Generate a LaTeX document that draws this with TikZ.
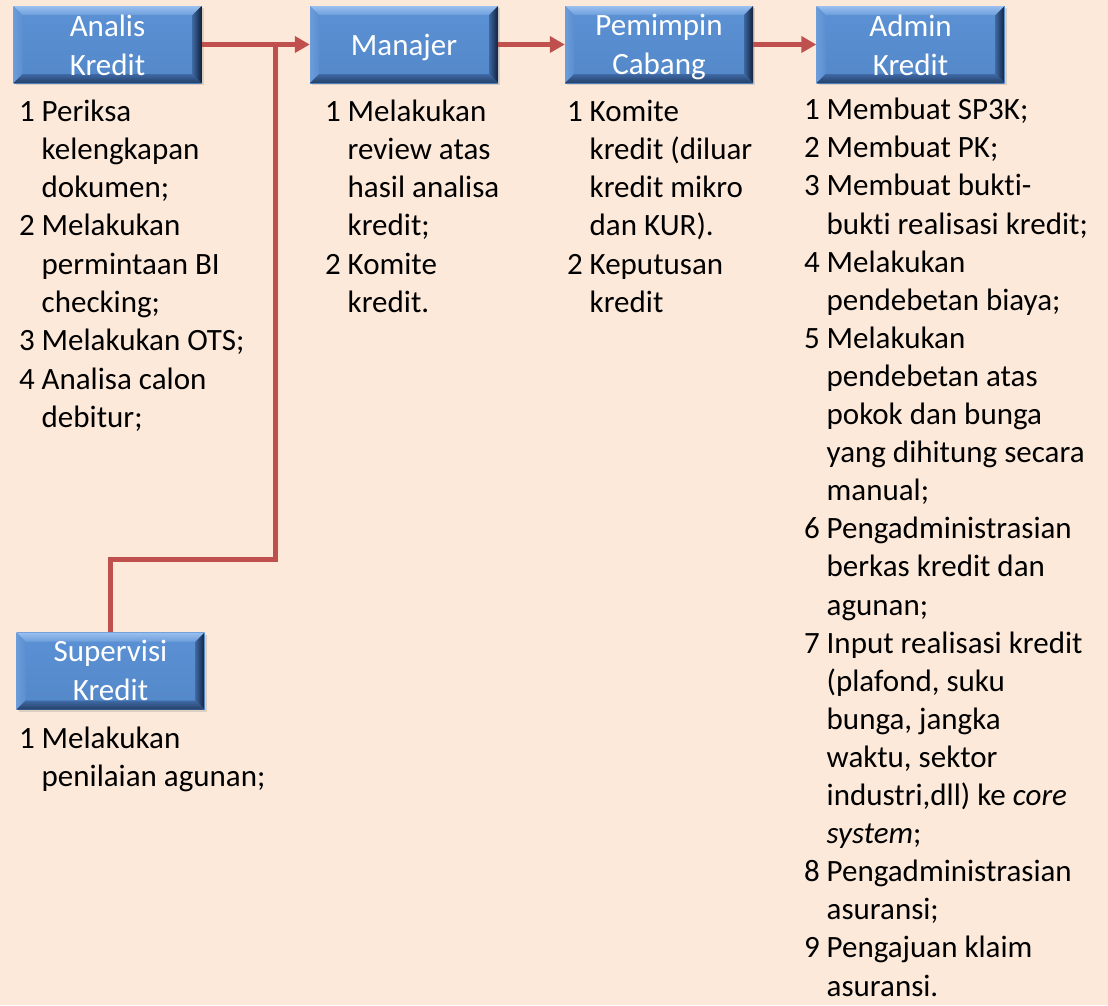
\documentclass[tikz,border=0pt]{standalone}
\usepackage{fontspec}
\setmainfont{Carlito}[Ligatures=NoCommon]
\usetikzlibrary{arrows.meta,calc,shadows}
\definecolor{bg}{HTML}{FDE9D9}
\definecolor{arrowred}{HTML}{C0504D}
\definecolor{face}{HTML}{5387C8}
\definecolor{facetop}{HTML}{5B92D5}
\definecolor{bevtopA}{HTML}{9AC0EE}
\definecolor{bevtopB}{HTML}{6D9EDC}
\definecolor{bevleftA}{HTML}{6C9CDA}
\definecolor{bevleftB}{HTML}{5A8FD0}
\definecolor{bevrightA}{HTML}{3C67A2}
\definecolor{bevrightB}{HTML}{13213A}
\definecolor{bevbotA}{HTML}{3F6AA6}
\definecolor{bevbotB}{HTML}{243F66}
\newcommand{\num}[1]{\makebox[22.5pt][l]{#1}}
\newcommand{\ind}{\hspace*{22.5pt}}
\begin{document}
\begin{tikzpicture}[x=1pt,y=-1pt,
  bevelbox/.style={minimum width=188pt,minimum height=77pt,inner sep=0pt,
    drop shadow={shadow xshift=2pt,shadow yshift=-2pt,opacity=0.25},
    fill=face,
    path picture={
      \coordinate (pNW) at (path picture bounding box.north west);
      \coordinate (pNE) at (path picture bounding box.north east);
      \coordinate (pSE) at (path picture bounding box.south east);
      \coordinate (pSW) at (path picture bounding box.south west);
      \shade[top color=facetop,bottom color=face] (pNW) rectangle (pSE);
      \shade[top color=bevtopA,bottom color=bevtopB] (pNW) -- (pNE) -- ($(pNE)+(-9pt,-9pt)$) -- ($(pNW)+(9pt,-9pt)$) -- cycle;
      \shade[left color=bevleftA,right color=bevleftB] (pNW) -- ($(pNW)+(9pt,-9pt)$) -- ($(pSW)+(9pt,9pt)$) -- (pSW) -- cycle;
      \shade[left color=bevrightA,right color=bevrightB] (pNE) -- ($(pNE)+(-9pt,-9pt)$) -- ($(pSE)+(-9pt,9pt)$) -- (pSE) -- cycle;
      \shade[top color=bevbotA,bottom color=bevbotB] (pSW) -- ($(pSW)+(9pt,9pt)$) -- ($(pSE)+(-9pt,9pt)$) -- (pSE) -- cycle;
    }},
  boxtext/.style={text=white,inner sep=0pt,align=center,font=\fontsize{31}{39}\selectfont},
  listtext/.style={text=black,inner sep=0pt,align=left,font=\fontsize{31}{38.3}\selectfont},
  flow/.style={draw=arrowred,line width=5pt,line join=miter},
  flowarrow/.style={flow,-{Triangle[length=15pt,width=16pt]}}
]
\fill[bg] (0,0) rectangle (1108,1005);
\useasboundingbox (0,0) rectangle (1108,1005);

% boxes
\node[bevelbox] (ana) at (107.5,44.5) {};
\node[bevelbox] (man) at (404,44.5) {};
\node[bevelbox] (pem) at (659,44.5) {};
\node[bevelbox] (adm) at (910.5,44.5) {};
\node[bevelbox] (sup) at (110.5,671) {};

% box labels (anchor base = baseline of last line)
\node[boxtext,anchor=base] (anat) at (107.5,75) {Analis\\Kredit};
\node[boxtext,anchor=base] (mant) at (404,55) {Manajer};
\node[boxtext,anchor=base] (pemt) at (659,74) {Pemimpin\\Cabang};
\node[boxtext,anchor=base] (admt) at (910.5,75) {Admin\\Kredit};
\node[boxtext,anchor=base] (supt) at (110.5,700) {Supervisi\\Kredit};

% connectors
\coordinate (j1) at (275,559);
\draw[flow] (sup.north) |- (j1) -- (j1 |- ana.east);
\draw[flowarrow] (ana.east) -- (man.west);
\draw[flowarrow] (man.east) -- (pem.west);
\draw[flowarrow] (pem.east) -- (adm.west);

% lists (anchor base west = baseline of last line)
\node[listtext,anchor=base west] (anal) at (19,427.4) {\num{1}Periksa\\
\ind kelengkapan\\
\ind dokumen;\\
\num{2}Melakukan\\
\ind permintaan BI\\
\ind checking;\\
\num{3}Melakukan OTS;\\
\num{4}Analisa calon\\
\ind debitur;};

\node[listtext,anchor=base west] (manl) at (325,312.5) {\num{1}Melakukan\\
\ind review atas\\
\ind hasil analisa\\
\ind kredit;\\
\num{2}Komite\\
\ind kredit.};

\node[listtext,anchor=base west] (peml) at (567,312.5) {\num{1}Komite\\
\ind kredit (diluar\\
\ind kredit mikro\\
\ind dan KUR).\\
\num{2}Keputusan\\
\ind kredit};

\node[listtext,anchor=base west,font=\fontsize{31}{38.1}\selectfont] (adml) at (804,996) {\num{1}Membuat SP3K;\\
\num{2}Membuat PK;\\
\num{3}Membuat bukti-\\
\ind bukti realisasi kredit;\\
\num{4}Melakukan\\
\ind pendebetan biaya;\\
\num{5}Melakukan\\
\ind pendebetan atas\\
\ind pokok dan bunga\\
\ind yang dihitung secara\\
\ind manual;\\
\num{6}Pengadministrasian\\
\ind berkas kredit dan\\
\ind agunan;\\
\num{7}Input realisasi kredit\\
\ind (plafond, suku\\
\ind bunga, jangka\\
\ind waktu, sektor\\
\ind industri,dll) ke \textit{core}\\
\ind \textit{system};\\
\num{8}Pengadministrasian\\
\ind asuransi;\\
\num{9}Pengajuan klaim\\
\ind asuransi.};

\node[listtext,anchor=base west] (supl) at (19,786.3) {\num{1}Melakukan\\
\ind penilaian agunan;};
\end{tikzpicture}
\end{document}
